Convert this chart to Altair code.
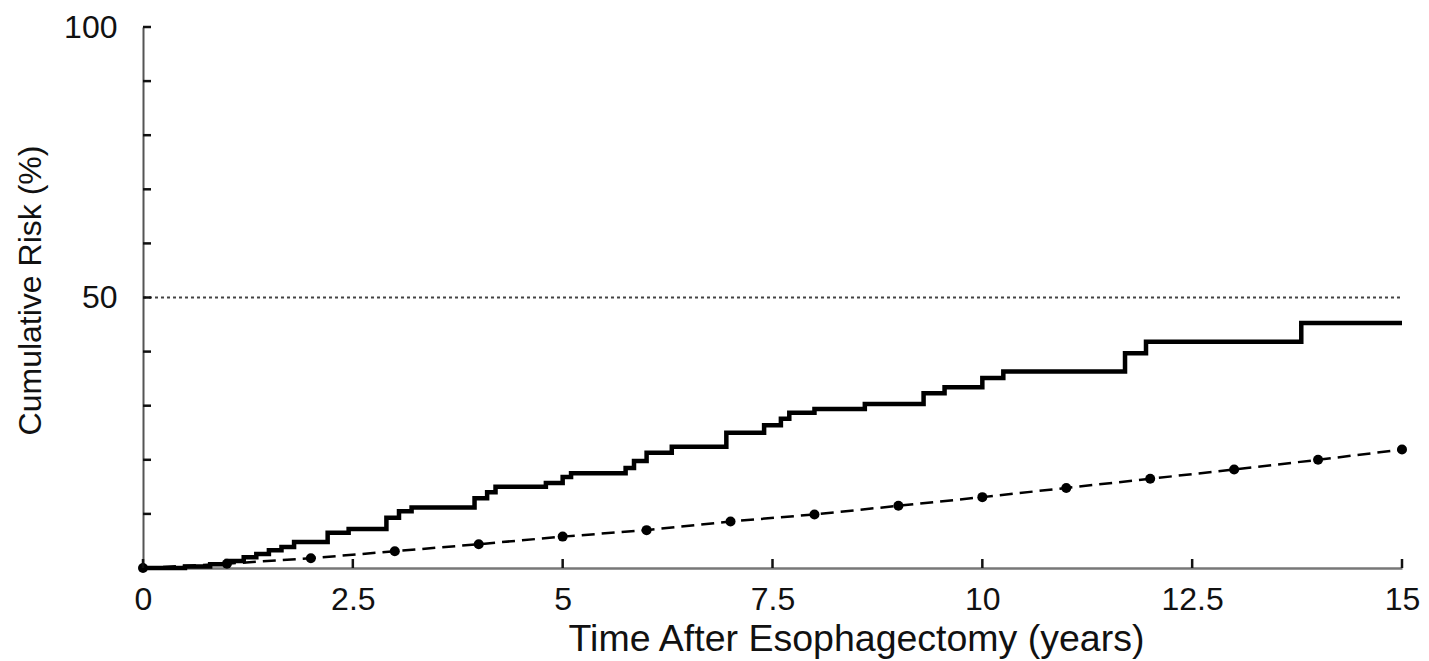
import altair as alt
import pandas as pd

# Observed cumulative risk (step curve)
km_time = [0, 0.5, 0.8, 1.0, 1.2, 1.35, 1.5, 1.65, 1.8, 2.2, 2.45, 2.9, 3.05, 3.2,
           3.95, 4.1, 4.2, 4.8, 5.0, 5.1, 5.75, 5.85, 6.0, 6.3, 6.95, 7.4, 7.6, 7.7,
           8.0, 8.6, 9.3, 9.55, 10.0, 10.25, 11.7, 11.95, 13.8, 15.0]
km_risk = [0, 0.3, 0.7, 1.3, 2.0, 2.6, 3.3, 3.9, 4.8, 6.5, 7.2, 9.3, 10.5, 11.2,
           12.9, 14.0, 15.0, 15.7, 16.8, 17.5, 18.5, 19.8, 21.3, 22.4, 25.0, 26.4, 27.6, 28.7,
           29.4, 30.3, 32.3, 33.4, 35.1, 36.3, 39.7, 41.8, 45.3, 45.3]

# Expected cumulative risk (dashed with markers)
exp_time = [0, 1, 2, 3, 4, 5, 6, 7, 8, 9, 10, 11, 12, 13, 14, 15]
exp_risk = [0, 0.8, 1.8, 3.1, 4.4, 5.8, 7.0, 8.6, 9.9, 11.5, 13.1, 14.8, 16.5, 18.2, 20.0, 21.9]

y_tick_values = [0, 10, 20, 30, 40, 50, 60, 70, 80, 90, 100]
y_label_values = [50, 100]
x_tick_values = [0, 2.5, 5, 7.5, 10, 12.5, 15]
reference_level = [50]

x_title = "Time After Esophagectomy (years)"
y_title = "Cumulative Risk (%)"

FONT = "Liberation Sans"
W, H = 1259, 541

km_df = pd.DataFrame({"t": km_time, "r": km_risk})
exp_df = pd.DataFrame({"t": exp_time, "r": exp_risk})
yt_df = pd.DataFrame({"r": y_tick_values})
ref_df = pd.DataFrame({"t": [0, 15], "r": reference_level * 2})
xt_data = alt.Data(values=[{"t": v, "r": 0} for v in x_tick_values])

xs = alt.Scale(domain=[0, 15], nice=False, zero=False)
ys = alt.Scale(domain=[0, 100], nice=False)

x_axis = alt.Axis(values=x_tick_values, labelExpr="toString(datum.value)", ticks=False, grid=False,
                  labelFlush=False,
                  domainColor="#777777", domainWidth=2.5,
                  labelFont=FONT, labelFontSize=32, labelColor="#111111", labelPadding=16,
                  title=x_title, titleFont=FONT, titleFontSize=37.5, titleFontWeight="normal",
                  titleColor="#111111", titleX=713, titleY=82, titleAlign="center",
                  titleBaseline="alphabetic")
y_axis = alt.Axis(values=y_label_values, ticks=False, grid=False, labelFlush=False,
                  domainColor="#555555", domainWidth=2,
                  labelFont=FONT, labelFontSize=32, labelColor="#111111", labelPadding=26,
                  title=y_title, titleFont=FONT, titleFontSize=32, titleFontWeight="normal",
                  titleColor="#111111", titleX=-113, titleY=263, titleAlign="center",
                  titleBaseline="middle", titleAngle=270)

X = alt.X("t:Q", scale=xs, axis=x_axis)
Y = alt.Y("r:Q", scale=ys, axis=y_axis)

ref = alt.Chart(ref_df).mark_line(color="#444444", strokeWidth=2, strokeDash=[3, 3]).encode(
    x=X, y=Y
)

y_ticks = alt.Chart(yt_df).mark_rule(color="#111111", strokeWidth=2.5).encode(
    y=Y, x=alt.value(0), x2=alt.value(8)
)

# upward tick marks on the x axis, drawn as a short vertical stroke symbol
x_ticks = alt.Chart(xt_data).mark_point(shape="M0,-2L0,0", filled=False, size=81,
                                        strokeWidth=2.5, color="#111111", opacity=1).encode(
    x=X, y=Y
)

exp_line = alt.Chart(exp_df).mark_line(color="black", strokeWidth=2.5, strokeDash=[13, 7]).encode(
    x=X, y=Y
)
exp_pts = alt.Chart(exp_df).mark_circle(color="black", size=100, opacity=1).encode(
    x=X, y=Y
)

km_line = alt.Chart(km_df).mark_line(color="black", strokeWidth=4.5, interpolate="step-after").encode(
    x=X, y=Y
)

chart = alt.layer(ref, y_ticks, exp_line, exp_pts, km_line, x_ticks).properties(
    width=W, height=H, autosize="none", background="white",
    padding={"left": 135, "top": 19, "right": 19, "bottom": 100}
).configure_view(stroke="transparent", strokeWidth=0)

chart.save("out.html", embed_options={"renderer": "svg", "actions": False})
